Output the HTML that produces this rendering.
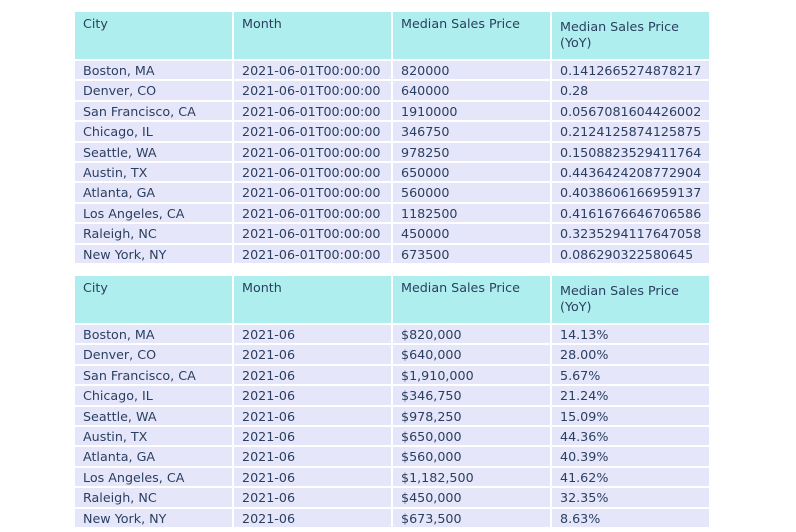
<!DOCTYPE html>
<html><head><meta charset="utf-8"><style>
body{margin:0;width:796px;height:532px;background:#fff;overflow:hidden;position:relative;font-family:"DejaVu Sans","Liberation Sans",sans-serif;font-size:12.7px;color:#2a3f5f}
.c{position:absolute;box-sizing:border-box;padding-left:8px;white-space:nowrap;border:1px solid #fff}
.h{background:#afeeee}
.r{background:#e6e6fa;line-height:19px}
</style></head><body>
<div id="root"></div>
<script>
const cities=["Boston, MA","Denver, CO","San Francisco, CA","Chicago, IL","Seattle, WA","Austin, TX","Atlanta, GA","Los Angeles, CA","Raleigh, NC","New York, NY"];
const prices=[820000,640000,1910000,346750,978250,650000,560000,1182500,450000,673500];
const yoyRaw=["0.1412665274878217","0.28","0.0567081604426002","0.2124125874125875","0.1508823529411764","0.4436424208772904","0.4038606166959137","0.4161676646706586","0.3235294117647058","0.086290322580645"];
const headers=["City","Month","Median Sales Price","Median Sales Price<br>(YoY)"];
const colX=[74,233,392,551],colW=159;
const root=document.getElementById('root');
function cell(x,y,w,h,cls,html,name){const d=document.createElement('div');d.className='c '+cls;d.style.left=x+'px';d.style.top=y+'px';d.style.width=w+'px';d.style.height=h+'px';d.innerHTML=html;


root.appendChild(d);return d;}
function table(top,rows,t){
 headers.forEach((hd,i)=>{const d=cell(colX[i],top,colW,49,'h',hd,t+'-header-'+i);d.style.paddingTop=(i==3?'7px':'4px');d.style.lineHeight='16px';});
 rows.forEach((r,j)=>{r.forEach((v,i)=>{cell(colX[i],top+49+j*20.4,colW,20.4,'r',v,t+'-cell-'+j+'-'+i);});});
}
table(11,cities.map((c,i)=>[c,"2021-06-01T00:00:00",String(prices[i]),yoyRaw[i]]),'raw-table');
table(275,cities.map((c,i)=>[c,"2021-06","$"+prices[i].toLocaleString('en-US'),(parseFloat(yoyRaw[i])*100).toFixed(2)+"%"]),'formatted-table');
</script>
</body></html>
